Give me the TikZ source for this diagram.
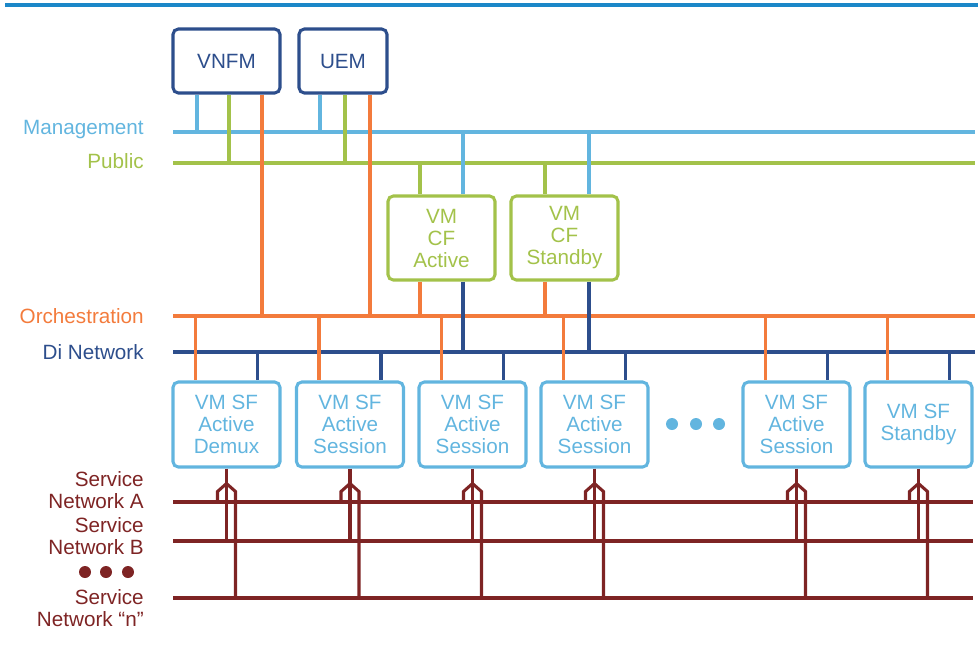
\documentclass[tikz,border=0pt]{standalone}
\usepackage{fontspec}
\setmainfont{Liberation Sans}
\usetikzlibrary{calc}
\definecolor{topbar}{HTML}{1B87C8}
\definecolor{mgmt}{HTML}{62B5DF}
\definecolor{pub}{HTML}{A3C24A}
\definecolor{orch}{HTML}{F37B3C}
\definecolor{di}{HTML}{2D4E8C}
\definecolor{svc}{HTML}{7E2424}
\tikzset{
  bus/.style={line width=2.3pt},
  box/.style={draw, line width=2.3pt, rounded corners=4pt, align=center, font=\fontsize{15.5pt}{16.5pt}\selectfont, inner sep=0pt},
  lab/.style={anchor=east, align=right, font=\fontsize{15.5pt}{16.5pt}\selectfont, inner sep=0pt},
  sfbox/.style={box, draw=mgmt, text=mgmt, minimum width=80.25pt, minimum height=63.75pt},
  cfbox/.style={box, draw=pub, text=pub, minimum width=80.25pt, minimum height=63pt},
  dot/.style={circle, inner sep=0pt, minimum size=9pt},
}
\begin{document}
\begin{tikzpicture}[x=0.75pt,y=-0.75pt]
\useasboundingbox (0,0) rectangle (978,647);
% top bar
\coordinate (tbL) at (5,5); \coordinate (tbR) at (978,5);
\draw[topbar, line width=2.6pt] (tbL) -- (tbR);

% bus coordinates
\coordinate (mL) at (173,132); \coordinate (mR) at (975,132);
\coordinate (pL) at (173,163); \coordinate (pR) at (975,163);
\coordinate (oL) at (173,316); \coordinate (oR) at (975,316);
\coordinate (dL) at (173,352); \coordinate (dR) at (975,352);
\coordinate (aL) at (173,502); \coordinate (aR) at (973,502);
\coordinate (bL) at (173,541); \coordinate (bR) at (973,541);
\coordinate (nL) at (173,598); \coordinate (nR) at (973,598);

% labels
\node[lab, text=mgmt] (lm) at (144,130) {Management};
\node[lab, text=pub] (lp) at (144,161) {Public};
\node[lab, text=orch] (lo) at (144,316) {Orchestration};
\node[lab, text=di] (ld) at (144,352) {Di Network};
\node[lab, text=svc] (la) at (144,490) {Service\\Network A};
\node[lab, text=svc] (lb) at (144,536) {Service\\Network B};
\node[lab, text=svc] (ln) at (144,608) {Service\\Network “n”};
\node[dot, fill=svc] (sd1) at (85,572) {};
\node[dot, fill=svc] (sd2) at (106,572) {};
\node[dot, fill=svc] (sd3) at (128,572) {};

% boxes
\node[box, draw=di, text=di, minimum width=80.25pt, minimum height=48pt] (vnfm) at (226.5,61) {VNFM};
\node[box, draw=di, text=di, minimum width=66pt, minimum height=48pt] (uem) at (343,61) {UEM};
\node[cfbox] (cfa) at (441.5,238) {VM\\CF\\Active};
\node[cfbox] (cfs) at (564.5,238) {VM\\CF\\Standby};
\node[sfbox] (sf1) at (226.5,424.5) {VM SF\\Active\\Demux};
\node[sfbox] (sf2) at (350,424.5) {VM SF\\Active\\Session};
\node[sfbox] (sf3) at (472.5,424.5) {VM SF\\Active\\Session};
\node[sfbox] (sf4) at (594.5,424.5) {VM SF\\Active\\Session};
\node[sfbox] (sf5) at (796.5,424.5) {VM SF\\Active\\Session};
\node[sfbox] (sf6) at (918.5,424.5) {VM SF\\Standby};
\node[dot, fill=mgmt] (bd1) at (672,424) {};
\node[dot, fill=mgmt] (bd2) at (696,424) {};
\node[dot, fill=mgmt] (bd3) at (719,424) {};

% buses
\draw[bus, mgmt] (mL) -- (mR);
\draw[bus, pub] (pL) -- (pR);
\draw[bus, orch] (oL) -- (oR);
\draw[bus, di] (dL) -- (dR);
\draw[bus, svc] (aL) -- (aR);
\draw[bus, svc] (bL) -- (bR);
\draw[bus, svc] (nL) -- (nR);

% VNFM / UEM drops
\draw[bus, mgmt] (vnfm.south -| 197,0) -- (mL -| 197,0);
\draw[bus, pub]  (vnfm.south -| 229,0) -- (pL -| 229,0);
\draw[bus, orch] (vnfm.south -| 262,0) -- (oL -| 262,0);
\draw[bus, mgmt] (uem.south -| 320,0) -- (mL -| 320,0);
\draw[bus, pub]  (uem.south -| 345,0) -- (pL -| 345,0);
\draw[bus, orch] (uem.south -| 370,0) -- (oL -| 370,0);

% CF connections
\draw[bus, pub]  (pL -| 420,0) -- (cfa.north -| 420,0);
\draw[bus, mgmt] (mL -| 463,0) -- (cfa.north -| 463,0);
\draw[bus, pub]  (pL -| 545,0) -- (cfs.north -| 545,0);
\draw[bus, mgmt] (mL -| 589,0) -- (cfs.north -| 589,0);
\draw[bus, orch] (cfa.south -| 420,0) -- (oL -| 420,0);
\draw[bus, di]   (cfa.south -| 463,0) -- (dL -| 463,0);
\draw[bus, orch] (cfs.south -| 545,0) -- (oL -| 545,0);
\draw[bus, di]   (cfs.south -| 589,0) -- (dL -| 589,0);

% SF connections
\foreach \b in {sf1,sf2,sf3,sf4,sf5,sf6}{
  \path (oL -| \b.west) ++(24,0) coordinate (o\b);
  \path (dL -| \b.west) ++(86,0) coordinate (d\b);
  \draw[bus, orch] (o\b) -- (o\b |- \b.north);
  \draw[bus, di]   (d\b) -- (d\b |- \b.north);
  \path (\b.south) ++(0,15) coordinate (x\b);
  \path (x\b) ++(-9,8) coordinate (l\b);
  \path (x\b) ++(9,8) coordinate (r\b);
  \draw[bus, svc] (\b.south) -- (x\b) -- (bL -| x\b);
  \draw[bus, svc, line join=miter] (x\b) -- (l\b) -- (aL -| l\b);
  \draw[bus, svc, line join=miter] (x\b) -- (r\b) -- (nL -| r\b);
}
\end{tikzpicture}
\end{document}
